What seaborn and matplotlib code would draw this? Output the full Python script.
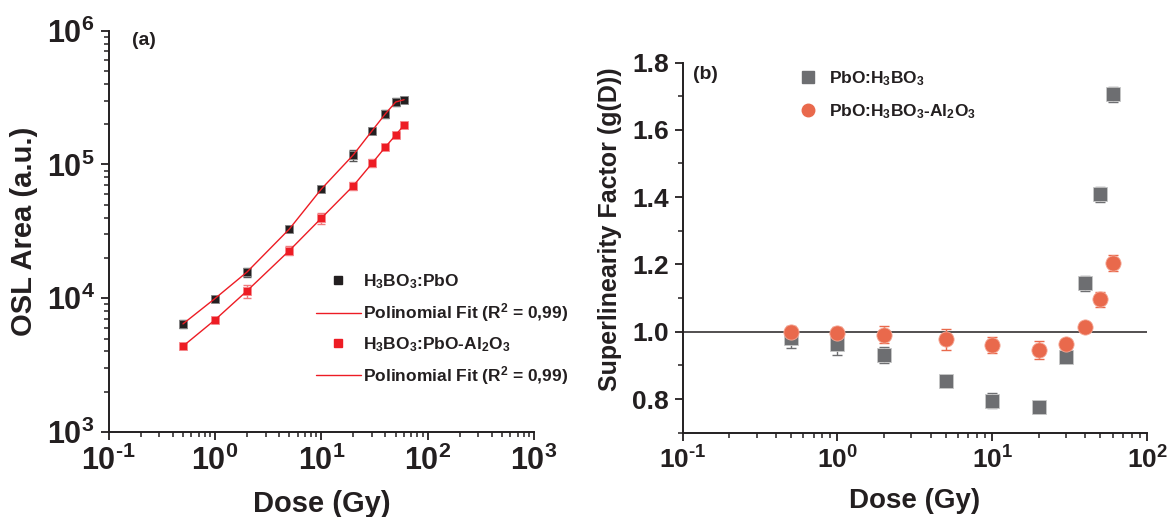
import numpy as np
import pandas as pd
import matplotlib
matplotlib.use("Agg")
import matplotlib.pyplot as plt
import seaborn as sns
from matplotlib.ticker import LogLocator, NullFormatter, MultipleLocator, FuncFormatter

# ---------------- data ----------------
dose = [0.5, 1, 2, 5, 10, 20, 30, 40, 50, 60]

osl_pbo = [6430, 9950, 15700, 32900, 65500, 118000, 178600, 239000, 293000, 305000]
osl_pbo_err = [450, 300, 1200, 1500, 1500, 11000, 6000, 18000, 20000, 9000]
osl_al = [4380, 6890, 11350, 22700, 39700, 69300, 102000, 135000, 166000, 197000]
osl_al_err = [200, 250, 1300, 1800, 3500, 4500, 7000, 5000, 6000, 5000]

g_pbo = [0.982, 0.963, 0.931, 0.854, 0.795, 0.777, 0.926, 1.144, 1.408, 1.705]
g_pbo_err = [0.030, 0.033, 0.025, 0.006, 0.022, 0.006, 0.006, 0.023, 0.023, 0.021]
g_al = [0.998, 0.995, 0.991, 0.977, 0.960, 0.946, 0.964, 1.015, 1.096, 1.203]
g_al_err = [0.020, 0.020, 0.025, 0.032, 0.024, 0.027, 0.008, 0.008, 0.023, 0.024]

label_a1 = r"H$_3$BO$_3$:PbO"
label_a2 = r"H$_3$BO$_3$:PbO-Al$_2$O$_3$"
label_fit = r"Polinomial Fit (R$^2$ = 0,99)"
label_b1 = r"PbO:H$_3$BO$_3$"
label_b2 = r"PbO:H$_3$BO$_3$-Al$_2$O$_3$"

# ---------------- style ----------------
sns.set_theme(style="ticks")
plt.rcParams["font.family"] = ["Liberation Sans", "DejaVu Sans"]
plt.rcParams["font.weight"] = "bold"
plt.rcParams["axes.labelweight"] = "bold"
plt.rcParams["axes.unicode_minus"] = False
plt.rcParams["mathtext.fontset"] = "custom"
plt.rcParams["mathtext.rm"] = "Liberation Sans:bold"
plt.rcParams["mathtext.bf"] = "Liberation Sans:bold"
plt.rcParams["mathtext.it"] = "Liberation Sans:bold"
plt.rcParams["mathtext.default"] = "bf"

TXT = "#231f20"
BLACK = "#231f20"
RED = "#ed1c24"
GRAY = "#6d6e71"
ORANGE = "#e9694c"


def pow10(v, pos):
    e = int(round(np.log10(v)))
    if e < 0:
        return r"10$^{\text{-}%d}$" % (-e)
    return r"10$^{%d}$" % e


fig = plt.figure(figsize=(11.67, 5.17), dpi=100)
axa = fig.add_axes([0.0931, 0.1644, 0.3645, 0.7762])
axb = fig.add_axes([0.585, 0.1631, 0.3979, 0.716])

df = pd.DataFrame({"dose": dose, "pbo": osl_pbo, "al": osl_al,
                   "g_pbo": g_pbo, "g_al": g_al})

# ---------------- panel (a) ----------------
axa.errorbar(dose, osl_pbo, yerr=osl_pbo_err, fmt="none", ecolor="#555555",
             elinewidth=1, capsize=3, capthick=1, zorder=2)
axa.errorbar(dose, osl_al, yerr=osl_al_err, fmt="none", ecolor="#f07a7e",
             elinewidth=1, capsize=3, capthick=1, zorder=2)
sns.scatterplot(data=df, x="dose", y="pbo", ax=axa, marker="s", s=40,
                color=BLACK, edgecolor="#888888", linewidth=0.6, zorder=3,
                legend=False)
sns.lineplot(data=df, x="dose", y="pbo", ax=axa, color=RED, linewidth=1.0,
             zorder=4, legend=False)
sns.scatterplot(data=df, x="dose", y="al", ax=axa, marker="s", s=40,
                color=RED, edgecolor="#f58a8e", linewidth=0.6, zorder=3,
                legend=False)
sns.lineplot(data=df, x="dose", y="al", ax=axa, color=RED, linewidth=1.0,
             zorder=4, legend=False)

axa.set_xscale("log")
axa.set_yscale("log")
axa.set_xlim(0.1, 1000)
axa.set_ylim(1e3, 1e6)
axa.xaxis.set_major_locator(LogLocator(base=10, numticks=10))
axa.yaxis.set_major_locator(LogLocator(base=10, numticks=10))
axa.xaxis.set_minor_locator(LogLocator(base=10, subs=np.arange(2, 10), numticks=20))
axa.yaxis.set_minor_locator(LogLocator(base=10, subs=np.arange(2, 10), numticks=20))
axa.xaxis.set_major_formatter(FuncFormatter(pow10))
axa.yaxis.set_major_formatter(FuncFormatter(pow10))
axa.xaxis.set_minor_formatter(NullFormatter())
axa.yaxis.set_minor_formatter(NullFormatter())
axa.set_xlabel("Dose (Gy)", fontsize=21, color=TXT, labelpad=9)
axa.set_ylabel("OSL Area (a.u.)", fontsize=21, color=TXT, labelpad=6)
axa.tick_params(axis="both", which="major", direction="out", length=6, width=1.3,
                labelsize=22, colors=TXT, pad=4)
axa.tick_params(axis="both", which="minor", direction="out", length=3.5, width=1.1,
                colors=TXT)
for sp in ["left", "bottom"]:
    axa.spines[sp].set_linewidth(1.4)
    axa.spines[sp].set_color(TXT)
sns.despine(ax=axa)
axa.text(0.055, 0.998, "(a)", transform=axa.transAxes, fontsize=14,
         fontweight="bold", color=TXT, va="top", ha="left")

h1 = plt.Line2D([], [], linestyle="none", marker="s", markersize=6,
                color=BLACK)
h2 = plt.Line2D([], [], color=RED, linewidth=1.0)
h3 = plt.Line2D([], [], linestyle="none", marker="s", markersize=6, color=RED)
h4 = plt.Line2D([], [], color=RED, linewidth=1.0)
leg = axa.legend([h1, h2, h3, h4], [label_a1, label_fit, label_a2, label_fit],
                 loc="upper left", bbox_to_anchor=(0.47, 0.415), frameon=False,
                 fontsize=12.5, handlelength=2.6, handletextpad=0.15,
                 labelspacing=0.6, borderaxespad=0)
for t in leg.get_texts():
    t.set_color(TXT)

# ---------------- panel (b) ----------------
axb.axhline(1.0, color="#231f20", linewidth=1.1, zorder=1)
axb.errorbar(dose, g_pbo, yerr=g_pbo_err, fmt="none", ecolor=GRAY,
             elinewidth=1, capsize=3.5, capthick=1, zorder=2)
axb.errorbar(dose, g_al, yerr=g_al_err, fmt="none", ecolor=ORANGE,
             elinewidth=1, capsize=3.5, capthick=1, zorder=2)
sns.scatterplot(data=df, x="dose", y="g_pbo", ax=axb, marker="s", s=95,
                color=GRAY, edgecolor="#c8c8c8", linewidth=0.6, zorder=3,
                legend=False)
sns.scatterplot(data=df, x="dose", y="g_al", ax=axb, marker="o", s=120,
                color=ORANGE, edgecolor="#f4a896", linewidth=0.6, zorder=4,
                legend=False)

axb.set_xscale("log")
axb.set_xlim(0.1, 100)
axb.set_ylim(0.7, 1.8)
axb.xaxis.set_major_locator(LogLocator(base=10, numticks=10))
axb.xaxis.set_minor_locator(LogLocator(base=10, subs=np.arange(2, 10), numticks=20))
axb.xaxis.set_major_formatter(FuncFormatter(pow10))
axb.xaxis.set_minor_formatter(NullFormatter())
axb.yaxis.set_major_locator(MultipleLocator(0.2))
axb.yaxis.set_minor_locator(MultipleLocator(0.1))
axb.set_yticks([0.8, 1.0, 1.2, 1.4, 1.6, 1.8])
axb.set_yticklabels(["0.8", "1.0", "1.2", "1.4", "1.6", "1.8"])
axb.set_xlabel("Dose (Gy)", fontsize=20, color=TXT, labelpad=10)
axb.set_ylabel("Superlinearity Factor (g(D))", fontsize=18, color=TXT)
axb.yaxis.set_label_coords(-0.13, 0.55)
axb.tick_params(axis="both", which="major", direction="out", length=6, width=1.3,
                labelsize=19, colors=TXT, pad=4)
axb.tick_params(axis="both", which="minor", direction="out", length=3.5, width=1.1,
                colors=TXT)
for sp in ["left", "bottom"]:
    axb.spines[sp].set_linewidth(1.4)
    axb.spines[sp].set_color(TXT)
sns.despine(ax=axb)
axb.text(0.022, 0.99, "(b)", transform=axb.transAxes, fontsize=14,
         fontweight="bold", color=TXT, va="top", ha="left")

hb1 = plt.Line2D([], [], linestyle="none", marker="s", markersize=8, color=GRAY)
hb2 = plt.Line2D([], [], linestyle="none", marker="o", markersize=9, color=ORANGE)
legb = axb.legend([hb1, hb2], [label_b1, label_b2], loc="upper left",
                  bbox_to_anchor=(0.232, 1.0), frameon=False, fontsize=12.5,
                  handlelength=1.2, handletextpad=0.6, labelspacing=0.8,
                  borderaxespad=0)
for t in legb.get_texts():
    t.set_color(TXT)

fig.savefig("out.png", dpi=100)
